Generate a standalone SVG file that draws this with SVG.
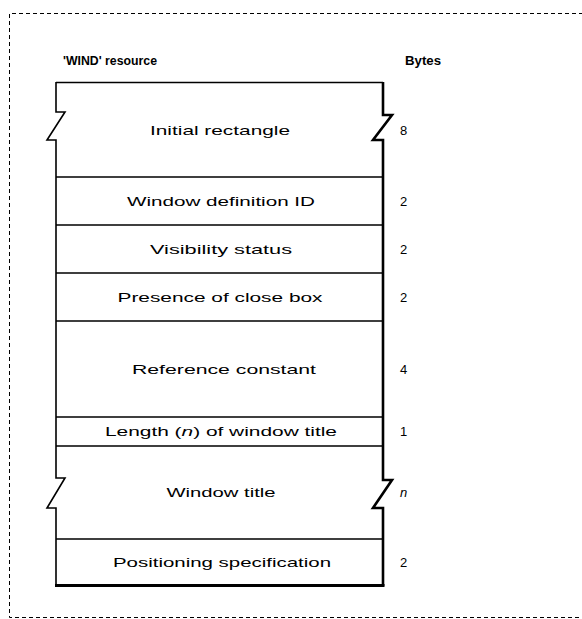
<svg xmlns="http://www.w3.org/2000/svg" width="582" height="619" viewBox="0 0 582 619">
<style>
.t{font-family:"Liberation Sans",Arial,sans-serif;font-size:13px;fill:#000;text-anchor:middle}
.n{font-family:"Liberation Sans",Arial,sans-serif;font-size:13px;fill:#000}
.h{font-family:"Liberation Sans",Arial,sans-serif;font-size:12px;font-weight:bold;fill:#000}
.ln{stroke:#000;fill:none}
</style>
<rect width="582" height="619" fill="#fff"/>
<path d="M590,13.5 H9.5 V617.5 H590" fill="none" stroke="#000" stroke-width="1" stroke-dasharray="4 3"/>
<text class="h" x="63" y="65" textLength="94" lengthAdjust="spacingAndGlyphs">'WIND' resource</text>
<text class="h" x="405" y="65" textLength="36" lengthAdjust="spacingAndGlyphs">Bytes</text>
<g id="frame">
<path class="ln" stroke-width="1.6" d="M56,82.5 H383"/>
<path class="ln" stroke-width="1.6" d="M56,82 V112 H65 L47,140 H56 V478 H65 L47,508 H56 V586"/>
<path class="ln" stroke-width="2.6" d="M383,82 V115 H392 L373,140 H383 V480 H392 L373,508 H383 V586"/>
<path class="ln" stroke-width="3" d="M55,585.5 H384.5"/>
</g>
<g id="dividers">
<path class="ln" stroke-width="1.6" d="M56,177 H383 M56,225 H383 M56,273 H383 M56,321 H383 M56,417 H383 M56,446 H383 M56,539 H383"/>
</g>
<g id="initial-rectangle"><text class="t" x="220" y="134.5" textLength="140" lengthAdjust="spacingAndGlyphs">Initial rectangle</text><text class="n" x="400" y="134.5">8</text></g>
<g id="window-definition-id"><text class="t" x="221" y="205.5" textLength="188" lengthAdjust="spacingAndGlyphs">Window definition ID</text><text class="n" x="400" y="205.5">2</text></g>
<g id="visibility-status"><text class="t" x="221" y="253.5" textLength="142" lengthAdjust="spacingAndGlyphs">Visibility status</text><text class="n" x="400" y="253.5">2</text></g>
<g id="presence-close-box"><text class="t" x="220" y="301.5" textLength="205" lengthAdjust="spacingAndGlyphs">Presence of close box</text><text class="n" x="400" y="301.5">2</text></g>
<g id="reference-constant"><text class="t" x="224" y="373.5" textLength="184" lengthAdjust="spacingAndGlyphs">Reference constant</text><text class="n" x="400" y="373.5">4</text></g>
<g id="length-title"><text class="t" x="221" y="436" textLength="232" lengthAdjust="spacingAndGlyphs">Length (<tspan font-style="italic">n</tspan>) of window title</text><text class="n" x="400" y="436">1</text></g>
<g id="window-title"><text class="t" x="221" y="496.5" textLength="109" lengthAdjust="spacingAndGlyphs">Window title</text><text class="n" x="400" y="496.5" font-style="italic">n</text></g>
<g id="positioning-spec"><text class="t" x="222" y="566.5" textLength="218" lengthAdjust="spacingAndGlyphs">Positioning specification</text><text class="n" x="400" y="566.5">2</text></g>
</svg>
